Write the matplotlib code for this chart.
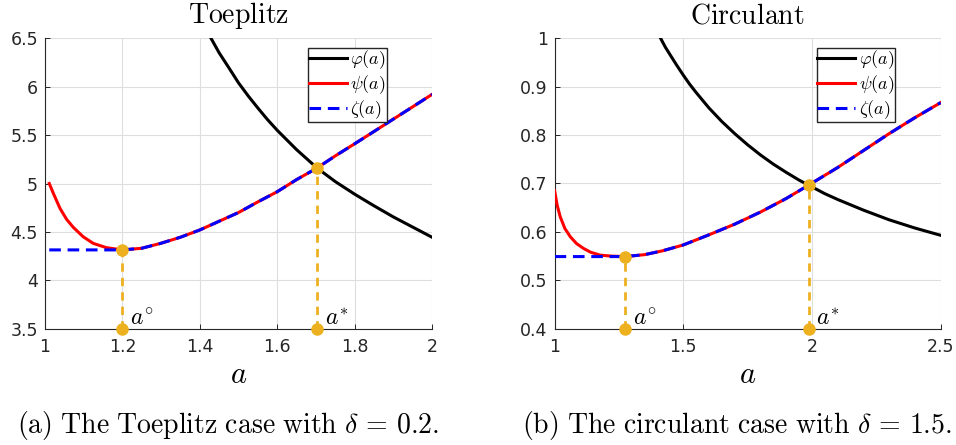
import numpy as np
import matplotlib
matplotlib.use('Agg')
import matplotlib.pyplot as plt
from matplotlib.ticker import FuncFormatter, MultipleLocator

plt.rcParams['mathtext.fontset'] = 'cm'
plt.rcParams['font.family'] = ['DejaVu Sans']

# ---------------------------------------------------------------------------
# Values
# ---------------------------------------------------------------------------
# (a) Toeplitz, delta = 0.2
T_phi_a = [1.429, 1.45, 1.476, 1.5, 1.525, 1.55, 1.575, 1.6, 1.65, 1.703, 1.75, 1.8,
           1.85, 1.9, 1.95, 2.0]
T_phi   = [6.50, 6.35, 6.19, 6.04, 5.905, 5.78, 5.66, 5.55, 5.35, 5.16, 5.02, 4.89,
           4.77, 4.655, 4.55, 4.445]

T_psi_a = [1.011, 1.0215, 1.0386, 1.0558, 1.0729, 1.0986, 1.1244, 1.1587, 1.2,
           1.25, 1.3, 1.35, 1.4, 1.45, 1.5, 1.55, 1.6, 1.65, 1.703, 1.75, 1.8,
           1.85, 1.9, 1.95, 2.0]
T_psi   = [5.00, 4.899, 4.744, 4.630, 4.548, 4.450, 4.382, 4.337, 4.314,
           4.331, 4.383, 4.445, 4.52, 4.61, 4.70, 4.81, 4.915, 5.04, 5.16, 5.285, 5.41,
           5.537, 5.665, 5.792, 5.92]

T_a_circ, T_val_circ = 1.2, 4.314     # a°
T_a_star, T_val_star = 1.703, 5.16    # a*

# (b) circulant, delta = 1.5
C_phi_a = [1.412, 1.43, 1.45, 1.475, 1.5, 1.525, 1.55, 1.6, 1.65, 1.7, 1.75, 1.8, 1.85,
           1.9, 1.95, 1.987, 2.05, 2.1, 2.2, 2.3, 2.4, 2.5]
C_phi   = [1.000, 0.982, 0.965, 0.944, 0.924, 0.905, 0.888, 0.856, 0.828, 0.803, 0.780,
           0.759, 0.740, 0.723, 0.707, 0.6966, 0.679, 0.667, 0.645, 0.625, 0.608, 0.593]

C_psi_a = [1.0, 1.01, 1.022, 1.04, 1.061, 1.085, 1.112, 1.14, 1.177, 1.22, 1.274,
           1.35, 1.42, 1.5, 1.6, 1.7, 1.8, 1.9, 1.987, 2.1, 2.2, 2.3, 2.4, 2.5]
C_psi   = [0.685, 0.655, 0.631, 0.607, 0.590, 0.576, 0.566, 0.558, 0.552, 0.550, 0.549,
           0.553, 0.561, 0.573, 0.594, 0.616, 0.641, 0.669, 0.6966, 0.733, 0.768,
           0.803, 0.836, 0.867]

C_a_circ, C_val_circ = 1.274, 0.549
C_a_star, C_val_star = 1.987, 0.6966

ORANGE = '#EDB120'
AX_COL = '#262626'
GRID_COL = '#dedede'

W, H = 956, 445


def fmt_g(v, pos):
    return f'{v:g}'


def draw_panel(ax, phi_a, phi, psi_a, psi, a_circ, v_circ, a_star, v_star,
               xlim, ylim, xstep, ystep, title):
    psi_a = np.asarray(psi_a)
    psi = np.asarray(psi)

    # zeta: flat at psi(a°) left of a°, equal to psi from a° on
    keep = psi_a >= a_circ
    zeta_a = np.concatenate(([psi_a[0]], psi_a[keep]))
    zeta = np.concatenate(([v_circ], psi[keep]))

    ax.plot(phi_a, phi, color='black', lw=2.2, label=r'$\varphi(a)$', zorder=3)
    ax.plot(psi_a, psi, color='#ff0000', lw=2.2, label=r'$\psi(a)$', zorder=3)
    ax.plot(zeta_a, zeta, color='#0000ff', lw=2.2, dashes=(3.8, 2.2),
            label=r'$\zeta(a)$', zorder=4)

    # a° and a* drop lines
    for a0, v0, lab in [(a_circ, v_circ, r'$a^{\circ}$'), (a_star, v_star, r'$a^{*}$')]:
        ax.plot([a0, a0], [ylim[0], v0], color=ORANGE, lw=2.0,
                dashes=(3.0, 2.2), zorder=5)
        ax.plot([a0, a0], [ylim[0], v0], 'o', color=ORANGE, ms=8,
                clip_on=False, zorder=6)
        ax.annotate(lab, (a0, ylim[0]), xytext=(5.5, 2.7),
                    textcoords='offset points', ha='left', va='baseline',
                    fontsize=17, zorder=7)

    ax.set_xlim(*xlim)
    ax.set_ylim(*ylim)
    ax.xaxis.set_major_locator(MultipleLocator(xstep))
    ax.yaxis.set_major_locator(MultipleLocator(ystep))
    ax.xaxis.set_major_formatter(FuncFormatter(fmt_g))
    ax.yaxis.set_major_formatter(FuncFormatter(fmt_g))

    ax.grid(True, color=GRID_COL, lw=0.8)
    ax.set_axisbelow(True)
    for side in ['top', 'right']:
        ax.spines[side].set_visible(False)
    for side in ['left', 'bottom']:
        ax.spines[side].set_color(AX_COL)
        ax.spines[side].set_linewidth(0.8)
    ax.tick_params(direction='in', length=3.6, width=0.7, color=AX_COL,
                   labelcolor=AX_COL, labelsize=12.5)
    ax.tick_params(axis='x', pad=7)
    ax.tick_params(axis='y', pad=5)

    ax.set_title(title, fontsize=20, pad=11)
    ax.set_xlabel(r'$a$', fontsize=22)
    ax.xaxis.label.set_va('baseline')
    ax.xaxis.set_label_coords(0.5, -54.3 / 290.4)

    ax.legend(loc='upper right', bbox_to_anchor=(0.883, 0.968), borderaxespad=0,
              fontsize=13, fancybox=False, framealpha=1, edgecolor=AX_COL,
              borderpad=0.05, labelspacing=0.12, handletextpad=0.2,
              handlelength=2.1)


fig = plt.figure(figsize=(W / 100, H / 100), dpi=100)
axT = fig.add_axes([45 / W, 1 - 328.7 / H, 387 / W, 290.4 / H])
axC = fig.add_axes([554.6 / W, 1 - 328.7 / H, 386 / W, 290.4 / H])

draw_panel(axT, T_phi_a, T_phi, T_psi_a, T_psi, T_a_circ, T_val_circ,
           T_a_star, T_val_star, (1, 2), (3.5, 6.5), 0.2, 0.5,
           r'$\mathrm{Toeplitz}$')
draw_panel(axC, C_phi_a, C_phi, C_psi_a, C_psi, C_a_circ, C_val_circ,
           C_a_star, C_val_star, (1, 2.5), (0.4, 1.0), 0.5, 0.1,
           r'$\mathrm{Circulant}$')

fig.text(228 / W, 1 - 433.3 / H,
         r'$\mathrm{(a)\ The\ Toeplitz\ case\ with\ }\delta\, =\, 0.2.$',
         ha='center', va='baseline', fontsize=20)
fig.text(737 / W, 1 - 433.3 / H,
         r'$\mathrm{(b)\ The\ circulant\ case\ with\ }\delta\, =\, 1.5.$',
         ha='center', va='baseline', fontsize=20)

fig.savefig('out.png', dpi=100, facecolor='white')
